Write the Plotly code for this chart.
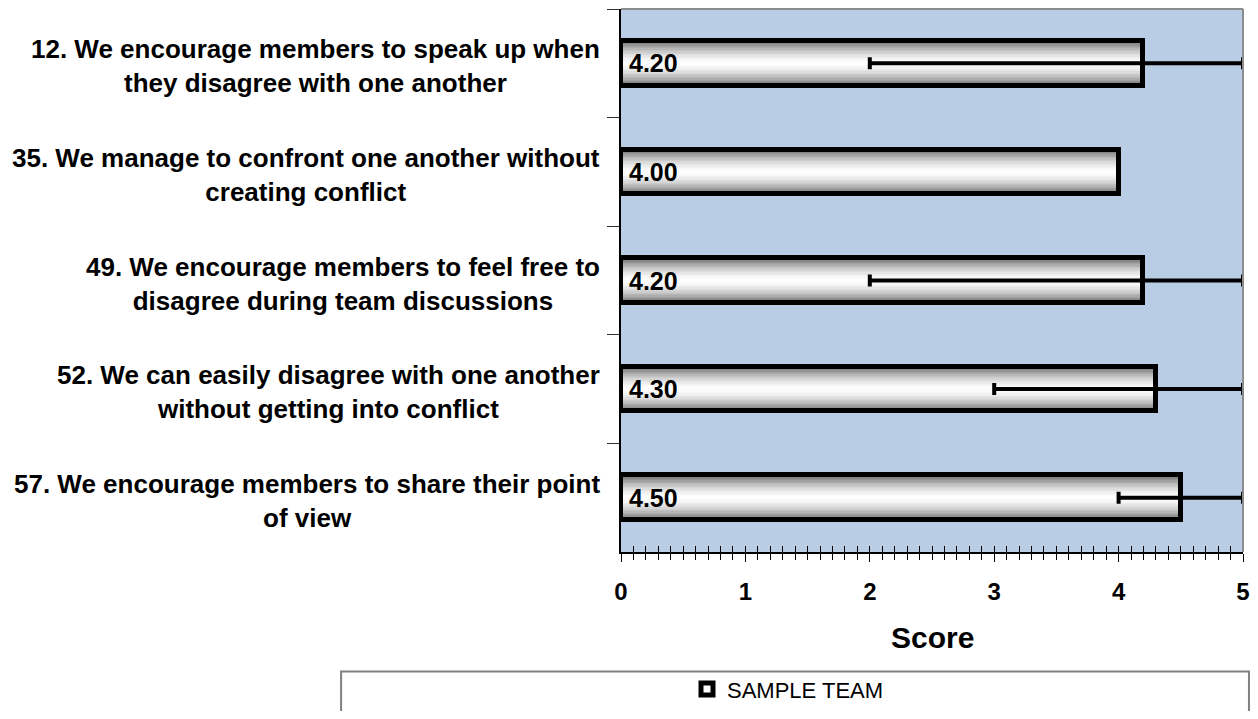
import plotly.graph_objects as go

# ---- data ----
categories = [
    "12. We encourage members to speak up when<br>they disagree with one another",
    "35. We manage to confront one another without<br>creating conflict",
    "49. We encourage members to feel free to<br>disagree during team discussions",
    "52. We can easily disagree with one another<br>without getting into conflict",
    "57. We encourage members to share their point<br>of view",
]
scores = [4.20, 4.00, 4.20, 4.30, 4.50]
score_min = [2, 4, 2, 3, 4]
score_max = [5, 4, 5, 5, 5]
series_name = "SAMPLE TEAM"
x_ticks = [0, 1, 2, 3, 4, 5]
axis_title = "Score"

FONT = "Liberation Sans, Arial, sans-serif"
BAR_W = 0.41

err_plus = [(mx - v) if mx != mn else None for v, mn, mx in zip(scores, score_min, score_max)]
err_minus = [(v - mn) if mx != mn else None for v, mn, mx in zip(scores, score_min, score_max)]

fig = go.Figure()

# gradient layers (vertical gray -> white -> gray)
N = 16
for k in range(N):
    f = 1 - k / N
    g = int(255 - (255 - 120) * (f ** 1.7))
    fig.add_trace(go.Bar(
        x=scores, y=categories, orientation="h",
        width=BAR_W * f * 0.97,
        marker=dict(color=f"rgb({g},{g},{g})", line=dict(width=0)),
        showlegend=False, hoverinfo="skip",
    ))

# outline + error bars
fig.add_trace(go.Bar(
    x=scores, y=categories, orientation="h", width=BAR_W,
    name=series_name,
    marker=dict(color="rgba(0,0,0,0)", line=dict(color="black", width=5)),
    error_x=dict(type="data", symmetric=False, array=err_plus, arrayminus=err_minus,
                 color="black", thickness=4, width=6),
))

# invisible trace to hold the overlay axis (crossing ticks)
fig.add_trace(go.Scatter(x=scores, y=categories, mode="none", xaxis="x2",
                         showlegend=False, hoverinfo="skip"))

# value labels at the start of each bar
for c, v in zip(categories, scores):
    fig.add_annotation(x=0, xref="x", y=c, yref="y", text=f"{v:.2f}",
                       xanchor="left", yanchor="middle", xshift=6, showarrow=False,
                       font=dict(family=FONT, size=25, color="black", weight="bold"))

# category labels (centered lines, right-aligned block)
for c in categories:
    fig.add_annotation(x=-0.031, xref="paper", y=c, yref="y", text=c,
                       xanchor="right", yanchor="middle", showarrow=False,
                       yshift=-3, align="center",
                       font=dict(family=FONT, size=26, color="black", weight="bold"))

fig.add_annotation(x=0.5, xref="paper", y=-0.157, yref="paper", text=axis_title,
                   xanchor="center", yanchor="middle", showarrow=False,
                   font=dict(family=FONT, size=30, color="black", weight="bold"))

fig.update_layout(
    width=1242, height=703,
    margin=dict(l=613, r=7, t=1, b=148),
    paper_bgcolor="white", plot_bgcolor="#B9CDE5",
    barmode="overlay", bargap=0,
    font=dict(family=FONT, color="black"),
    xaxis=dict(range=[0, 5], tickvals=x_ticks, showgrid=False, zeroline=False,
               showline=True, linecolor="black", linewidth=2,
               ticks="outside", ticklen=8, tickcolor="black", tickwidth=1,
               ticklabelstandoff=9,
               tickfont=dict(family=FONT, size=24, color="black", weight="bold"),
               minor=dict(dtick=0.1, ticks="outside", ticklen=6, tickcolor="black",
                          tickwidth=1, showgrid=False)),
    xaxis2=dict(range=[0, 5], overlaying="x", side="bottom", anchor="y",
                tickvals=x_ticks, showticklabels=False, showgrid=False, zeroline=False,
                showline=False, ticks="inside", ticklen=6, tickcolor="black", tickwidth=1,
                minor=dict(dtick=0.1, ticks="inside", ticklen=6, tickcolor="black",
                           tickwidth=1, showgrid=False)),
    yaxis=dict(type="category", categoryorder="array", categoryarray=categories,
               range=[4.5, -0.5], showticklabels=False, showgrid=False,
               showline=True, linecolor="black", linewidth=2,
               ticks="outside", tickson="boundaries", ticklen=12,
               tickcolor="#333333", tickwidth=1),
    legend=dict(orientation="h", x=0.2685, xanchor="center", y=-0.2527, yanchor="middle",
                bgcolor="rgba(0,0,0,0)", borderwidth=0,
                font=dict(family=FONT, size=22, color="black")),
    shapes=[
        dict(type="line", xref="paper", yref="paper", x0=0, x1=1, y0=1, y1=1,
             line=dict(color="#8c8c8c", width=2)),
        dict(type="line", xref="paper", yref="paper", x0=1, x1=1, y0=0, y1=1,
             line=dict(color="#8c8c8c", width=2)),
        dict(type="rect", xref="paper", yref="paper", x0=-0.450, x1=1.0096,
             y0=-0.32, y1=-0.2202, line=dict(color="#808080", width=2)),
    ],
)

fig.write_html("out.html")
